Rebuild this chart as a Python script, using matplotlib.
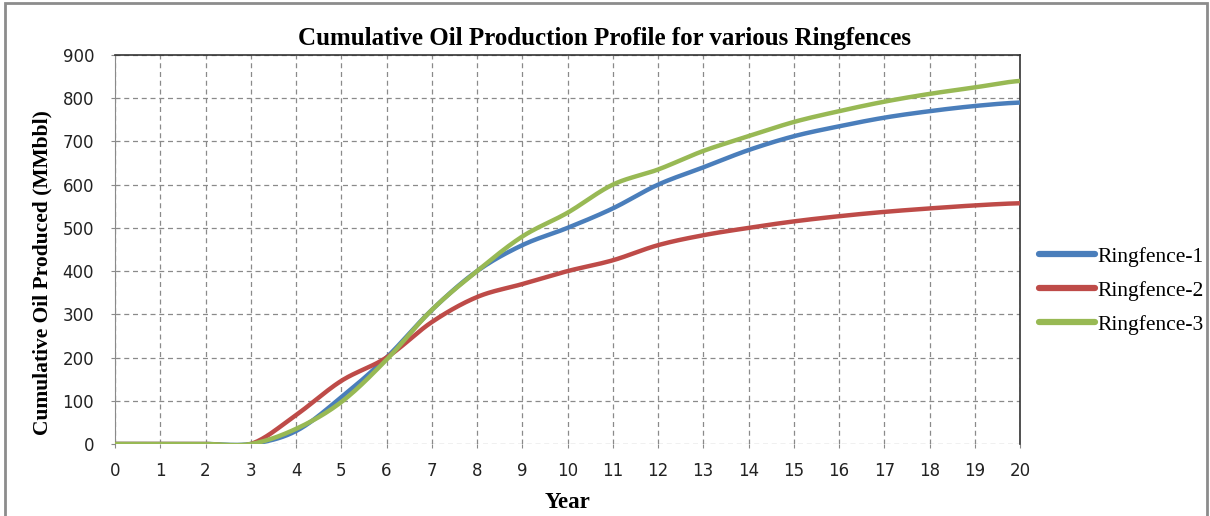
import numpy as np
import matplotlib
matplotlib.use("Agg")
import matplotlib.pyplot as plt
from matplotlib.patches import Rectangle

years = list(range(0, 21))
ringfence_1 = [0, 0, 0, 0, 30, 108, 200, 310, 400, 460, 500, 545, 600, 640, 680, 712, 735, 755, 770, 782, 790]
ringfence_2 = [0, 0, 0, 0, 67, 146, 200, 282, 340, 370, 400, 425, 460, 483, 500, 515, 527, 537, 545, 552, 557]
ringfence_3 = [0, 0, 0, 0, 35, 97, 195, 310, 400, 480, 535, 600, 635, 678, 712, 745, 770, 792, 810, 825, 840]
series_names = ["Ringfence-1", "Ringfence-2", "Ringfence-3"]
colors = ["#4A7EBB", "#BE4B48", "#98B954"]
x_ticks = list(range(0, 21))
y_ticks = list(range(0, 1000, 100))


def smooth(x, y, n=20):
    """Catmull-Rom style smoothing similar to spreadsheet smoothed lines."""
    x = np.asarray(x, float)
    y = np.asarray(y, float)
    px = np.concatenate([[2 * x[0] - x[1]], x, [2 * x[-1] - x[-2]]])
    py = np.concatenate([[y[0]], y, [y[-1]]])
    xs, ys = [], []
    for i in range(1, len(px) - 2):
        p0, p1, p2, p3 = (np.array([px[j], py[j]]) for j in range(i - 1, i + 3))
        c1 = p1 + (p2 - p0) / 6.0
        c2 = p2 - (p3 - p1) / 6.0
        t = np.linspace(0, 1, n, endpoint=False)[:, None]
        pts = ((1 - t) ** 3) * p1 + 3 * ((1 - t) ** 2) * t * c1 + 3 * (1 - t) * t ** 2 * c2 + t ** 3 * p2
        xs.append(pts[:, 0])
        ys.append(pts[:, 1])
    xs.append([x[-1]])
    ys.append([y[-1]])
    return np.concatenate(xs), np.concatenate(ys)


fig = plt.figure(figsize=(12.10, 5.16), dpi=100)
ax = fig.add_axes([115 / 1210, 1 - 444 / 516, 905 / 1210, 389 / 516])

for name, vals, c in zip(series_names, [ringfence_1, ringfence_2, ringfence_3], colors):
    sx, sy = smooth(years, vals)
    ax.plot(sx, sy, color=c, lw=3.2, label=name, solid_capstyle="round", zorder=3)

ax.set_xlim(0, 20)
ax.set_ylim(0, 900)
ax.set_xticks(x_ticks)
ax.set_yticks(y_ticks)
ax.grid(True, linestyle=(0, (4, 3)), color="#8a8a8a", lw=0.9)
ax.tick_params(axis="both", labelsize=12, length=3, color="#8a8a8a", labelcolor="#222222")
ax.tick_params(axis="x", direction="out", pad=10)
ax.tick_params(axis="y", direction="out", pad=12)
for side in ("top", "right"):
    ax.spines[side].set_color("#333333")
    ax.spines[side].set_linewidth(1.2)
ax.spines["left"].set_color("#8a8a8a")
ax.spines["bottom"].set_visible(False)
for t in ax.get_xticklabels() + ax.get_yticklabels():
    t.set_fontfamily("DejaVu Sans")

ax.set_xlabel("Year", fontfamily="Liberation Serif", fontweight="bold", fontsize=16.5)
ax.set_ylabel("Cumulative Oil Produced (MMbbl)", fontfamily="Liberation Serif",
              fontweight="bold", fontsize=15.5)
ax.xaxis.label.set_va("center")
ax.yaxis.label.set_va("center")
ax.xaxis.set_label_coords(0.5, (444 - 503) / 389)
ax.yaxis.set_label_coords((42 - 115) / 905, (444 - 273) / 389)
fig.text(605 / 1210, 1 - 38 / 516, "Cumulative Oil Production Profile for various Ringfences",
         ha="center", va="center", fontfamily="Liberation Serif", fontweight="bold", fontsize=18)

leg = fig.legend(loc="upper left", bbox_to_anchor=(1030 / 1210, 1 - 238 / 516),
                 frameon=False, prop={"family": "Liberation Serif", "size": 15.5},
                 handlelength=2.6, handletextpad=0.15, labelspacing=0.65, borderaxespad=0)
for h in leg.get_lines():
    h.set_linewidth(4.5)

fig.patches.append(Rectangle((5 / 1210, -0.05), 1202 / 1210, 1 - 3 / 516 + 0.05,
                             transform=fig.transFigure, fill=False, edgecolor="#8c8c8c", lw=2))

fig.savefig("out.png", dpi=100)
